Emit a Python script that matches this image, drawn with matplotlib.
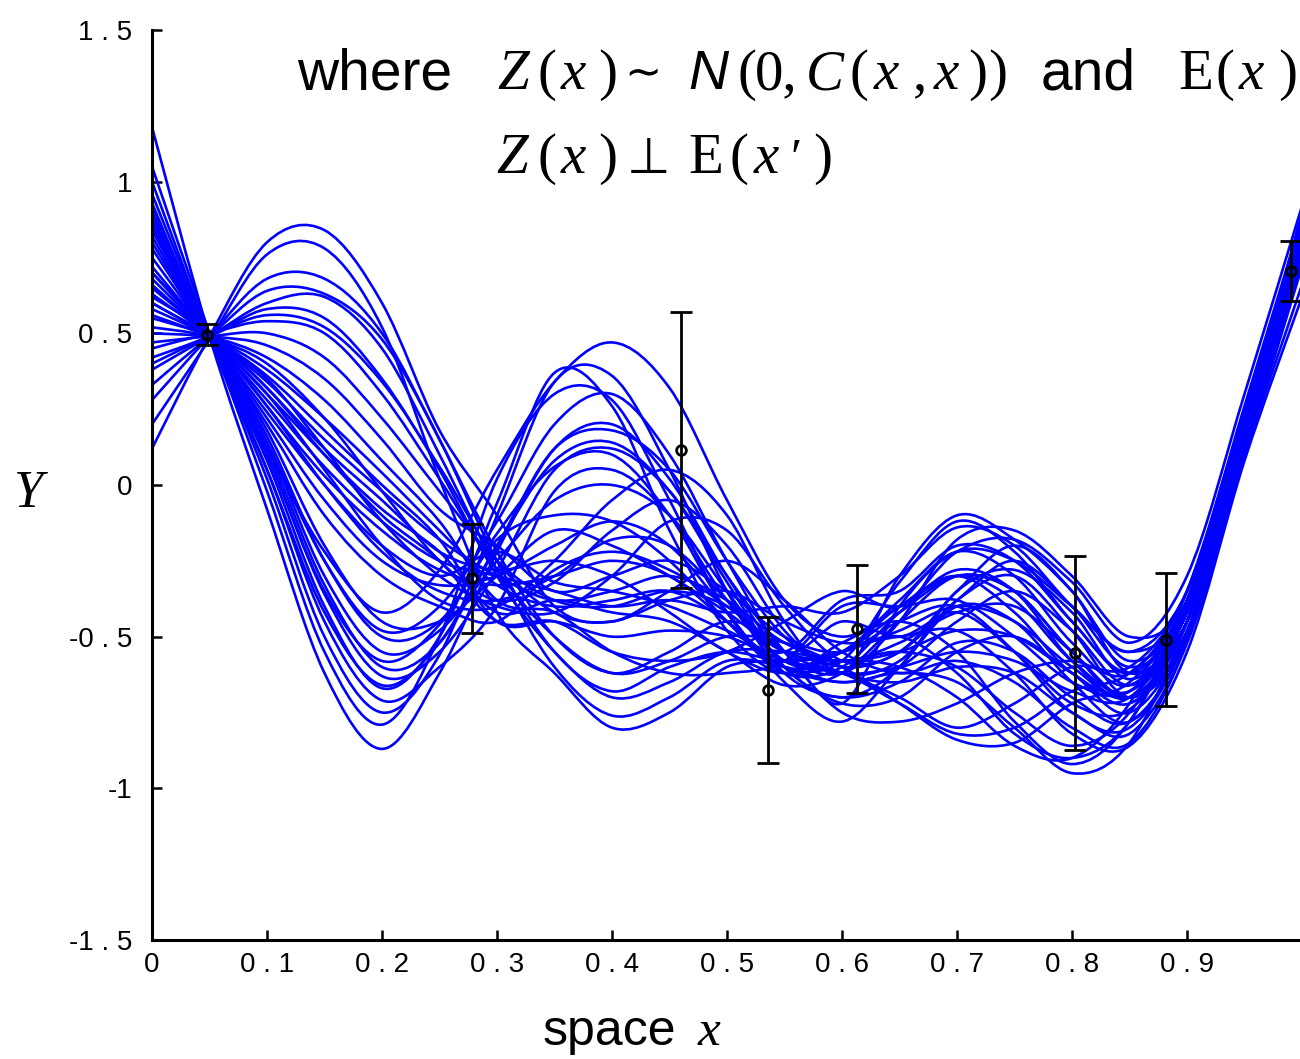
import matplotlib
matplotlib.use("Agg")
import matplotlib.pyplot as plt
import numpy as np
from matplotlib.path import Path
from matplotlib.patches import PathPatch
from matplotlib.font_manager import FontProperties

# ---------------- data ----------------
knot_x = [0.0, 0.05, 0.1, 0.15, 0.2, 0.25, 0.3, 0.35, 0.4, 0.45, 0.5,
          0.55, 0.6, 0.65, 0.7, 0.75, 0.8, 0.85, 0.9, 0.95, 1.0]

c01 = [1.18, .49, -.08, -.62, -.87, -.62, -.22, .12, .20, .02, -.30, -.55, -.45, -.50, -.42, -.55, -.72, -.74, -.45, .18, .82]
c02 = [1.05, .50, -.02, -.55, -.79, -.50, .02, .30, .28, -.05, -.42, -.60, -.55, -.40, -.30, -.42, -.62, -.68, -.40, .22, .85]
c03 = [1.00, .49, .02, -.50, -.75, -.56, -.10, .34, .36, .05, -.35, -.62, -.70, -.65, -.52, -.55, -.70, -.78, -.50, .12, .76]
c04 = [.96, .49, .05, -.45, -.71, -.60, -.40, -.02, .05, -.10, -.38, -.58, -.55, -.38, -.22, -.30, -.52, -.66, -.40, .20, .80]
c05 = [.93, .48, .08, -.40, -.67, -.50, -.06, .37, .26, -.15, -.48, -.62, -.52, -.45, -.55, -.78, -.92, -.78, -.38, .24, .84]
c06 = [.90, .49, .10, -.36, -.63, -.55, -.28, .05, .12, -.02, -.30, -.55, -.75, -.78, -.72, -.62, -.58, -.62, -.35, .25, .86]
c07 = [.88, .49, .12, -.33, -.60, -.52, -.20, .12, .18, .05, -.25, -.50, -.60, -.55, -.38, -.25, -.40, -.60, -.42, .18, .80]
c08 = [.85, .50, .14, -.30, -.55, -.48, -.25, -.05, .00, -.10, -.35, -.60, -.72, -.70, -.55, -.50, -.62, -.75, -.48, .15, .78]
c09 = [.82, .49, .16, -.25, -.50, -.45, -.18, -.10, -.12, -.25, -.45, -.62, -.60, -.42, -.28, -.35, -.58, -.70, -.45, .18, .80]
c10 = [.80, .49, .18, -.20, -.45, -.45, -.30, -.15, -.20, -.30, -.42, -.55, -.58, -.55, -.60, -.75, -.86, -.75, -.40, .20, .82]
c11 = [.78, .49, .20, -.10, -.30, -.40, -.45, -.28, -.22, -.28, -.40, -.55, -.72, -.40, -.22, -.25, -.40, -.55, -.35, .25, .86]
c12 = [.75, .49, .22, -.05, -.25, -.33, -.30, -.20, -.12, -.20, -.42, -.65, -.78, -.60, -.40, -.45, -.65, -.78, -.50, .12, .75]
c13 = [.72, .49, .24, .00, -.20, -.30, -.22, -.32, -.35, -.40, -.48, -.55, -.38, -.35, -.20, -.25, -.45, -.62, -.38, .22, .84]
c14 = [.70, .50, .26, .03, -.15, -.28, -.33, -.30, -.25, -.30, -.45, -.60, -.65, -.62, -.65, -.80, -.95, -.85, -.45, .16, .78]
c15 = [.68, .49, .28, .06, -.12, -.25, -.30, -.35, -.40, -.38, -.42, -.40, -.42, -.30, -.14, -.20, -.40, -.55, -.40, .20, .80]
c16 = [.65, .49, .30, .10, -.08, -.22, -.42, -.38, -.42, -.45, -.55, -.66, -.62, -.45, -.30, -.35, -.55, -.70, -.45, .16, .78]
c17 = [.62, .50, .32, .12, -.05, -.22, -.28, -.25, -.30, -.42, -.55, -.62, -.55, -.50, -.62, -.82, -.90, -.78, -.40, .20, .82]
c18 = [.60, .49, .34, .15, -.02, -.18, -.30, -.38, -.35, -.30, -.38, -.52, -.58, -.52, -.42, -.40, -.55, -.70, -.50, .10, .72]
c19 = [.58, .49, .36, .18, .00, -.18, -.45, -.45, -.50, -.48, -.50, -.58, -.62, -.72, -.82, -.80, -.68, -.62, -.38, .22, .84]
c20 = [.55, .49, .38, .22, .04, -.15, -.33, -.40, -.38, -.35, -.45, -.60, -.58, -.32, -.12, -.22, -.45, -.62, -.45, .15, .78]
c21 = [.52, .49, .42, .28, .08, -.12, -.38, -.42, -.55, -.62, -.62, -.58, -.40, -.40, -.38, -.50, -.65, -.68, -.42, .20, .82]
c22 = [.50, .49, .46, .35, .15, -.08, -.20, -.35, -.30, -.25, -.35, -.50, -.55, -.45, -.40, -.55, -.75, -.80, -.50, .14, .78]
c23 = [.47, .49, .50, .42, .22, -.02, -.25, -.38, -.40, -.35, -.40, -.55, -.62, -.60, -.55, -.58, -.68, -.70, -.42, .18, .80]
c24 = [.45, .50, .54, .50, .30, .02, -.28, -.50, -.62, -.58, -.50, -.52, -.60, -.72, -.84, -.85, -.72, -.65, -.40, .20, .82]
c25 = [.42, .49, .58, .55, .35, .05, -.30, -.55, -.70, -.65, -.55, -.55, -.58, -.55, -.48, -.50, -.62, -.72, -.48, .15, .78]
c26 = [.38, .49, .60, .62, .45, .10, -.28, -.60, -.76, -.70, -.58, -.60, -.65, -.60, -.45, -.35, -.48, -.66, -.45, .18, .80]
c27 = [.33, .49, .64, .63, .48, .15, -.25, -.55, -.68, -.60, -.55, -.58, -.55, -.42, -.30, -.35, -.55, -.70, -.45, .20, .84]
c28 = [.28, .49, .68, .68, .50, .15, -.22, -.50, -.62, -.55, -.45, -.52, -.62, -.65, -.60, -.62, -.75, -.82, -.52, .10, .74]
c29 = [.20, .48, .76, .78, .52, .02, -.42, -.62, -.80, -.75, -.60, -.58, -.55, -.48, -.40, -.45, -.60, -.70, -.45, .18, .80]
c30 = [.12, .49, .80, .84, .60, .18, -.10, -.40, -.45, -.35, -.25, -.38, -.55, -.62, -.58, -.65, -.80, -.85, -.52, .12, .76]
c31 = [.84, .49, .12, -.22, -.42, -.28, .05, .34, .47, .32, -.05, -.38, -.50, -.40, -.30, -.38, -.58, -.68, -.42, .20, .90]
c32 = [.86, .50, .14, -.25, -.48, -.40, -.12, .20, .30, .10, -.25, -.55, -.62, -.45, -.18, -.15, -.30, -.50, -.38, .24, .88]
c33 = [.66, .49, .30, .05, -.20, -.38, -.40, -.25, -.05, .05, -.10, -.45, -.62, -.30, -.10, -.18, -.35, -.58, -.40, .22, .84]
c34 = [.60, .49, .35, .12, -.12, -.30, -.40, -.42, -.30, -.12, -.15, -.40, -.58, -.55, -.35, -.20, -.35, -.62, -.45, .16, .80]
c35 = [.56, .49, .40, .22, -.02, -.25, -.38, -.32, -.15, -.05, -.20, -.48, -.62, -.58, -.38, -.30, -.48, -.70, -.50, .10, .66]
c36 = [.92, .48, .05, -.42, -.66, -.52, -.20, .08, .14, -.02, -.32, -.60, -.70, -.60, -.35, -.28, -.42, -.64, -.42, .20, .82]
c37 = [.88, .49, .10, -.35, -.58, -.46, -.16, .06, .10, -.10, -.42, -.62, -.58, -.60, -.70, -.86, -.90, -.72, -.35, .25, .86]
c38 = [.70, .49, .26, .00, -.22, -.35, -.38, -.30, -.18, -.20, -.38, -.58, -.62, -.70, -.80, -.72, -.60, -.60, -.35, .26, .88]
c39 = [.63, .49, .32, .10, -.10, -.25, -.45, -.45, -.55, -.58, -.55, -.45, -.35, -.40, -.22, -.18, -.32, -.52, -.30, .30, .92]
c40 = [.40, .49, .56, .52, .34, .06, -.25, -.42, -.45, -.38, -.35, -.45, -.52, -.50, -.48, -.62, -.82, -.86, -.55, .08, .62]

curves = [c01, c02, c03, c04, c05, c06, c07, c08, c09, c10,
          c11, c12, c13, c14, c15, c16, c17, c18, c19, c20,
          c21, c22, c23, c24, c25, c26, c27, c28, c29, c30,
          c31, c32, c33, c34, c35, c36, c37, c38, c39, c40]

obs_x = [0.048, 0.278, 0.460, 0.536, 0.613, 0.803, 0.882, 0.990]
obs_y = [0.495, -0.307, 0.115, -0.676, -0.475, -0.554, -0.510, 0.706]
obs_err = [0.035, 0.180, 0.455, 0.240, 0.210, 0.320, 0.220, 0.100]

xtick_vals = [0.0, 0.1, 0.2, 0.3, 0.4, 0.5, 0.6, 0.7, 0.8, 0.9]
xtick_labels = ["0", "0 . 1", "0 . 2", "0 . 3", "0 . 4", "0 . 5",
                "0 . 6", "0 . 7", "0 . 8", "0 . 9"]
ytick_vals = [-1.5, -1.0, -0.5, 0.0, 0.5, 1.0, 1.5]
ytick_labels = ["-1 . 5", "-1", "-0 . 5", "0", "0 . 5", "1", "1 . 5"]

# ---------------- figure ----------------
W, H = 1300, 1059
fig = plt.figure(figsize=(W / 100, H / 100), dpi=100)
ax = fig.add_axes([152 / W, (H - 940) / H, 1150 / W, 910 / H])
ax.set_xlim(0, 1)
ax.set_ylim(-1.5, 1.5)


def smooth_path(xs, ys):
    pts = np.column_stack([xs, ys]).astype(float)
    n = len(pts)
    verts = [pts[0]]
    codes = [Path.MOVETO]
    for i in range(n - 1):
        p0 = pts[max(i - 1, 0)]
        p1 = pts[i]
        p2 = pts[i + 1]
        p3 = pts[min(i + 2, n - 1)]
        verts += [p1 + (p2 - p0) / 6.0, p2 - (p3 - p1) / 6.0, p2]
        codes += [Path.CURVE4] * 3
    return Path(verts, codes)


for cy in curves:
    ax.add_patch(PathPatch(smooth_path(knot_x, cy), facecolor="none",
                           edgecolor="#0000ff", lw=1.9, zorder=2))

ax.errorbar(obs_x, obs_y, yerr=obs_err, fmt="o", color="black",
            mfc="none", mec="black", ms=7, mew=2.0, elinewidth=2.0,
            capsize=8, capthick=2.0, zorder=5, clip_on=False)

for s in ["top", "right"]:
    ax.spines[s].set_visible(False)
for s in ["left", "bottom"]:
    ax.spines[s].set_linewidth(2.2)
    ax.spines[s].set_color("black")

tick_font = FontProperties(family=["Liberation Sans Narrow", "Liberation Sans"], size=20)
ax.set_xticks(xtick_vals)
ax.set_xticklabels(xtick_labels, fontproperties=tick_font)
ax.set_yticks(ytick_vals)
ax.set_yticklabels(ytick_labels, fontproperties=tick_font)
ax.tick_params(axis="both", direction="in", length=7, width=1.8, color="black")
ax.tick_params(axis="y", pad=14)
ax.tick_params(axis="x", pad=9)

# ---------------- text ----------------
SANS = ["Liberation Sans", "DejaVu Sans"]
SERIF = ["Liberation Serif", "DejaVu Serif", "DejaVu Sans"]
SYM = ["DejaVu Sans"]


def put(s, xpx, ybase, family, size, style="normal"):
    fig.text(xpx / W, 1 - ybase / H, s, family=family, fontsize=size,
             style=style, ha="left", va="baseline")


TS = 41   # sans size of the title words
MS = 41   # serif math size
y1 = 89
put("where", 297, y1, SANS, TS)
put("Z", 497, y1, SERIF, MS, "italic")
put("(", 537, y1, SERIF, MS)
put("x", 561, y1, SERIF, MS, "italic")
put(")", 598, y1, SERIF, MS)
put("\u223c", 624, y1 - 3, SYM, 32)
put("N", 688, y1, SANS, MS - 1, "italic")
put("(", 737, y1, SERIF, MS)
put("0,", 755, y1, SERIF, MS)
put("C", 806, y1, SERIF, MS, "italic")
put("(", 850, y1, SERIF, MS)
put("x", 874, y1, SERIF, MS, "italic")
put(",", 913, y1, SERIF, MS)
put("x", 934, y1, SERIF, MS, "italic")
put(")", 968, y1, SERIF, MS)
put(")", 988, y1, SERIF, MS)
put("and", 1041, y1, SANS, TS)
put("E", 1178, y1, SERIF, MS)
put("(", 1216, y1, SERIF, MS)
put("x", 1239, y1, SERIF, MS, "italic")
put(")", 1278, y1, SERIF, MS)

y2 = 173
put("Z", 496, y2, SERIF, MS, "italic")
put("(", 537, y2, SERIF, MS)
put("x", 561, y2, SERIF, MS, "italic")
put(")", 598, y2, SERIF, MS)
put("\u22a5", 627, y2, SYM, 36)
put("E", 688, y2, SERIF, MS)
put("(", 730, y2, SERIF, MS)
put("x", 754, y2, SERIF, MS, "italic")
put("\u2032", 790, y2, SERIF, MS - 4)
put(")", 813, y2, SERIF, MS)

# axis labels
put("Y", 14, 507, SERIF, 38, "italic")
put("space", 543, 1045, SANS, 36)
put("x", 698, 1045, SERIF, 37, "italic")

fig.savefig("out.png", dpi=100)
